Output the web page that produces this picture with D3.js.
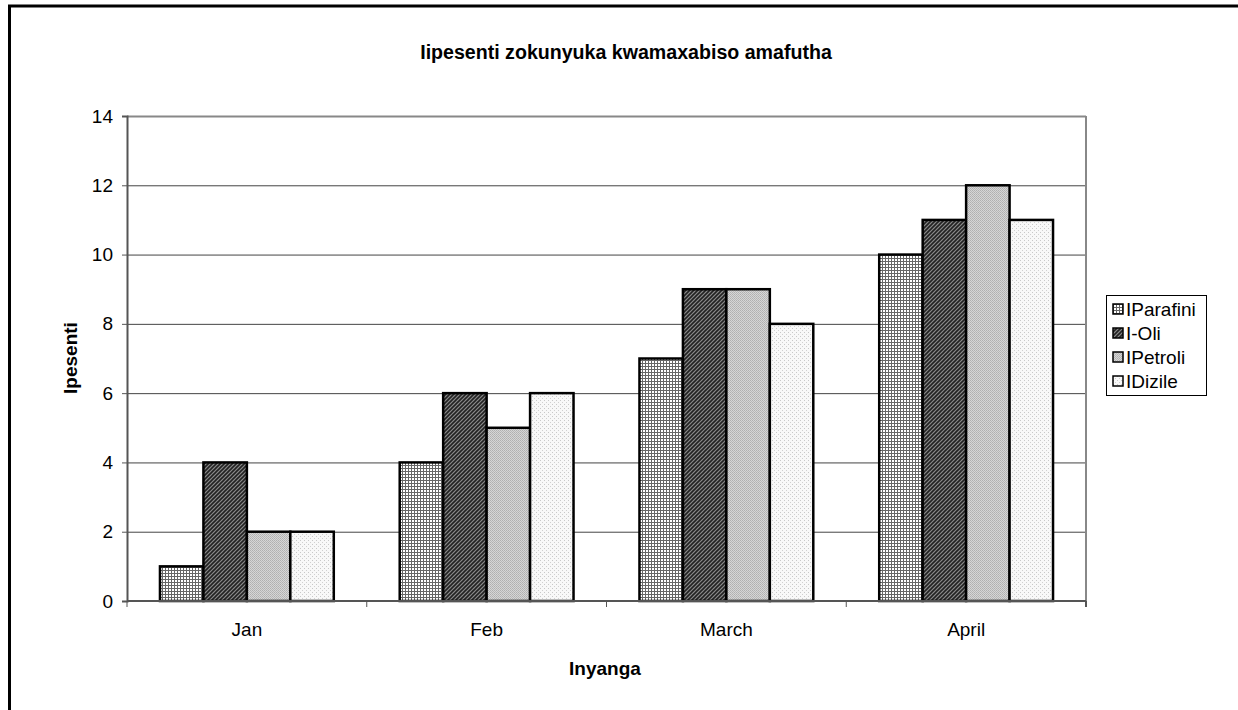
<!DOCTYPE html>
<html><head><meta charset="utf-8">
<script src="https://cdn.jsdelivr.net/npm/d3@7"></script>
<style>body{margin:0;background:#fff}svg{display:block;font-family:"Liberation Sans",Arial,sans-serif}</style>
</head><body><svg id="c" width="1238" height="710"></svg>
<script>
const categories = ["Jan","Feb","March","April"];
const seriesNames = ["IParafini","I-Oli","IPetroli","IDizile"];
const parafini = [1,4,7,10];
const oli = [4,6,9,11];
const petroli = [2,5,9,12];
const dizile = [2,6,8,11];
const yTicks = [0,2,4,6,8,10,12,14];
const seriesValues = [parafini, oli, petroli, dizile];

const FS = 19;
const svg = d3.select("#c");
const defs = svg.append("defs");
// patterns
const p1 = defs.append("pattern").attr("id","pat0").attr("patternUnits","userSpaceOnUse").attr("width",3).attr("height",3);
p1.append("rect").attr("width",3).attr("height",3).attr("fill","#fff");
p1.append("rect").attr("width",3).attr("height",1).attr("fill","#666");
p1.append("rect").attr("width",1).attr("height",3).attr("fill","#666");
const p2 = defs.append("pattern").attr("id","pat1").attr("patternUnits","userSpaceOnUse").attr("width",4).attr("height",4);
p2.append("rect").attr("width",4).attr("height",4).attr("fill","#8a8a8a");
p2.append("path").attr("d","M-1,5 L5,-1 M-1,1 L1,-1 M3,5 L5,3").attr("stroke","#222").attr("stroke-width",1.6);
const p3 = defs.append("pattern").attr("id","pat2").attr("patternUnits","userSpaceOnUse").attr("width",2).attr("height",2);
p3.append("rect").attr("width",2).attr("height",2).attr("fill","#d6d6d6");
p3.append("rect").attr("width",1).attr("height",1).attr("fill","#b0b0b0");
p3.append("rect").attr("x",1).attr("y",1).attr("width",1).attr("height",1).attr("fill","#b8b8b8");
const p4 = defs.append("pattern").attr("id","pat3").attr("patternUnits","userSpaceOnUse").attr("width",4).attr("height",4);
p4.append("rect").attr("width",4).attr("height",4).attr("fill","#f8f8f8");
p4.append("rect").attr("width",1).attr("height",1).attr("fill","#c8c8c8");
p4.append("rect").attr("x",2).attr("y",2).attr("width",1).attr("height",1).attr("fill","#d0d0d0");

// outer border (left and top)
svg.append("path").attr("d","M9.5,710 L9.5,6 L1238,6").attr("fill","none").attr("stroke","#000").attr("stroke-width",3);

const L=127,R=1086,T=116,B=601;
const x = d3.scaleBand().domain(categories).range([L,R]).paddingInner(0.275).paddingOuter(0.1375);
const x1 = d3.scaleBand().domain(d3.range(4)).range([0,x.bandwidth()]);
const y = d3.scaleLinear().domain([0,14]).range([B,T]);

// gridlines
svg.append("g").selectAll("line").data(yTicks.filter(d=>d>0)).join("line")
 .attr("x1",L).attr("x2",R).attr("y1",d=>y(d)+0.5).attr("y2",d=>y(d)+0.5)
 .attr("stroke",d=>d===14?"#888":"#444").attr("stroke-width",d=>d===14?2:1);
// right border
svg.append("line").attr("x1",R).attr("x2",R).attr("y1",T).attr("y2",B).attr("stroke","#888").attr("stroke-width",2);

// bars
const flat = [];
categories.forEach((c,i)=>seriesValues.forEach((s,j)=>flat.push({c,j,v:s[i]})));
svg.append("g").selectAll("rect").data(flat).join("rect")
 .attr("x",d=>x(d.c)+x1(d.j)).attr("width",x1.bandwidth())
 .attr("y",d=>y(d.v)).attr("height",d=>B-y(d.v))
 .attr("fill",d=>`url(#pat${d.j})`).attr("stroke","#000").attr("stroke-width",2.5);

// axes
const ya = svg.append("g").attr("transform",`translate(${L},0)`)
 .call(d3.axisLeft(y).tickValues(yTicks).tickSize(5).tickPadding(9).tickFormat(d3.format("d")));
ya.select(".domain").attr("stroke","#555").attr("stroke-width",2);
ya.selectAll(".tick line").attr("stroke","#555");
ya.selectAll("text").attr("font-size",FS).attr("fill","#000").attr("font-family","Liberation Sans, Arial, sans-serif");

const xa = svg.append("g").attr("transform",`translate(0,${B})`)
 .call(d3.axisBottom(x).tickSize(0).tickPadding(22));
xa.select(".domain").attr("stroke","#555").attr("stroke-width",2).attr("d",`M${L},0H${R}`);
xa.selectAll("text").attr("font-size",FS).attr("fill","#000").attr("font-family","Liberation Sans, Arial, sans-serif");
// x tick marks at band boundaries
svg.append("g").selectAll("line").data(d3.range(5)).join("line")
 .attr("x1",i=>L+i*(R-L)/4).attr("x2",i=>L+i*(R-L)/4).attr("y1",B).attr("y2",B+6)
 .attr("stroke","#555").attr("stroke-width",i=>i===4?2:1);

// titles
svg.append("text").attr("x",626).attr("y",59).attr("text-anchor","middle")
 .attr("font-size",19.6).attr("font-weight","bold").text("Iipesenti zokunyuka kwamaxabiso amafutha");
svg.append("text").attr("x",605).attr("y",675).attr("text-anchor","middle")
 .attr("font-size",FS).attr("font-weight","bold").text("Inyanga");
svg.append("text").attr("transform","translate(77,358) rotate(-90)").attr("text-anchor","middle")
 .attr("font-size",FS).attr("font-weight","bold").text("Ipesenti");

// legend
const lg = svg.append("g");
lg.append("rect").attr("x",1106.5).attr("y",295.5).attr("width",100).attr("height",100).attr("fill","#fff").attr("stroke","#000").attr("stroke-width",1);
const it = lg.selectAll("g").data(seriesNames).join("g").attr("transform",(d,i)=>`translate(1113,${304+i*24})`);
it.append("rect").attr("width",10).attr("height",10).attr("fill",(d,i)=>`url(#pat${i})`).attr("stroke","#000").attr("stroke-width",1.5);
it.append("text").attr("x",13).attr("y",11.5).attr("font-size",FS).text(d=>d);
</script></body></html>
